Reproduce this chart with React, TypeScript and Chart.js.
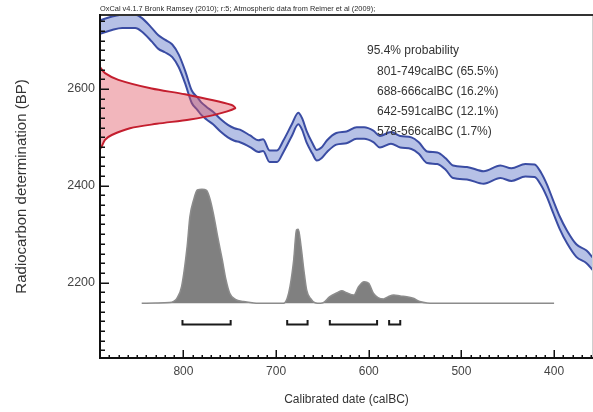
import React, { useEffect, useRef } from "react";
import { Chart, registerables } from "chart.js";

Chart.register(...registerables);

const FONT = "'Liberation Sans', Arial, sans-serif";

const headerText = "OxCal v4.1.7 Bronk Ramsey (2010); r:5; Atmospheric data from Reimer et al (2009);";
const xAxisTitle = "Calibrated date (calBC)";
const yAxisTitle = "Radiocarbon determination (BP)";
const xTickValues = [800, 700, 600, 500, 400];
const yTickValues = [2200, 2400, 2600];

// Calibration curve (cal BC, radiocarbon BP, 1 sigma)
const calYears = [890, 877, 866, 852, 845, 834, 827, 820, 812, 805, 798, 791, 785, 781, 775, 768, 760, 752, 745, 739, 728, 719, 714, 707, 699, 692, 683, 676, 672, 667, 661, 656, 651, 645, 635, 624, 613, 605, 595, 588, 576, 566, 554, 546, 537, 526, 517, 509, 494, 476, 458, 446, 431, 421, 414, 408, 401, 394, 386, 376, 365, 358];
const curveBP = [2728, 2736, 2740, 2740, 2733, 2712, 2697, 2689, 2679, 2658, 2624, 2584, 2570, 2560, 2550, 2540, 2525, 2513, 2506, 2503, 2492, 2482, 2484, 2461, 2461, 2482, 2515, 2539, 2528, 2501, 2478, 2463, 2468, 2482, 2497, 2500, 2509, 2509, 2502, 2491, 2499, 2491, 2488, 2478, 2459, 2457, 2445, 2429, 2426, 2417, 2429, 2423, 2432, 2431, 2414, 2391, 2357, 2324, 2294, 2266, 2253, 2238];
const curveErr = [14, 14, 14, 14, 14, 14, 14, 13, 13, 13, 13, 13, 13, 13, 13, 13, 13, 13, 13, 13, 12, 12, 12, 12, 12, 12, 12, 12, 12, 12, 11, 11, 11, 12, 12, 12, 12, 12, 12, 12, 12, 12, 12, 12, 12, 12, 12, 13, 13, 13, 13, 13, 13, 13, 13, 13, 13, 13, 13, 13, 13, 13];

// Radiocarbon likelihood (BP, relative probability)
const likelihoodBP = [2645, 2633, 2619, 2601, 2589, 2567, 2560, 2546, 2537, 2528, 2519, 2505, 2495, 2481, 2476];
const likelihoodProb = [0, 0.037, 0.136, 0.383, 0.63, 0.976, 1, 0.84, 0.667, 0.42, 0.222, 0.087, 0.037, 0.012, 0];

// Calibrated posterior (cal BC, relative probability)
const posteriorYears = [845, 830, 815, 810, 807, 802, 796, 793, 789, 785, 780, 775, 771, 767, 763, 758, 754, 750, 744, 735, 724, 710, 692, 688, 685, 681, 678, 676, 673, 670, 667, 663, 658, 652, 649, 642, 634, 629, 624, 616, 611, 605, 600, 595, 590, 584, 579, 573, 566, 559, 552, 545, 537, 520, 400];
const posteriorDensity = [0, 0.003, 0.006, 0.02, 0.044, 0.146, 0.497, 0.76, 0.906, 0.994, 1.0, 0.99, 0.906, 0.76, 0.584, 0.38, 0.204, 0.088, 0.035, 0.015, 0.003, 0, 0, 0.044, 0.146, 0.38, 0.643, 0.65, 0.497, 0.292, 0.117, 0.044, 0.005, 0, 0.005, 0.058, 0.093, 0.111, 0.093, 0.073, 0.146, 0.19, 0.175, 0.088, 0.05, 0.038, 0.058, 0.073, 0.064, 0.058, 0.044, 0.015, 0.003, 0, 0];

// 95.4% ranges
const probabilityTitle = "95.4% probability";
const hpdFrom = [801, 688, 642, 578];
const hpdTo = [749, 666, 591, 566];
const hpdPercent = ["65.5", "16.2", "12.1", "1.7"];

const BRACKET_TOP = -0.147;
const BRACKET_BOTTOM = -0.186;

const overlayPlugin = {
  id: "oxcalOverlay",
  afterDatasetsDraw(chart: any) {
    const { ctx, chartArea: a, scales } = chart;
    const xs = scales.x;
    const ys = scales.y;
    ctx.save();

    // probability text block
    ctx.fillStyle = "#333";
    ctx.font = `12px ${FONT}`;
    ctx.textAlign = "left";
    ctx.textBaseline = "middle";
    ctx.fillText(probabilityTitle, 367, 50.5);
    hpdFrom.forEach((f, i) => {
      ctx.fillText(`${f}-${hpdTo[i]}calBC (${hpdPercent[i]}%)`, 377, 71.5 + i * 20);
    });

    // header
    ctx.font = `7.4px ${FONT}`;
    ctx.textBaseline = "alphabetic";
    ctx.fillStyle = "#2a2a2a";
    ctx.fillText(headerText, 100, 10.5);

    // frame
    ctx.strokeStyle = "#cfcfcf";
    ctx.lineWidth = 1;
    ctx.beginPath();
    ctx.moveTo(a.right - 0.5, a.top);
    ctx.lineTo(a.right - 0.5, a.bottom);
    ctx.stroke();

    ctx.strokeStyle = "#333";
    ctx.lineWidth = 2;
    ctx.beginPath();
    ctx.moveTo(a.left, a.top);
    ctx.lineTo(a.right, a.top);
    ctx.stroke();

    ctx.strokeStyle = "#111";
    ctx.beginPath();
    ctx.moveTo(a.left, a.top - 1);
    ctx.lineTo(a.left, a.bottom);
    ctx.lineTo(a.right, a.bottom);
    ctx.stroke();

    // inward tick marks
    ctx.lineWidth = 1.5;
    ctx.beginPath();
    for (let v = Math.ceil(ys.min / 20) * 20; v <= ys.max; v += 20) {
      const y = Math.round(ys.getPixelForValue(v)) + 0.25;
      const len = yTickValues.includes(v) ? 9 : 5;
      ctx.moveTo(a.left, y);
      ctx.lineTo(a.left + len, y);
    }
    for (let v = Math.ceil(xs.min / 10) * 10; v <= xs.max; v += 10) {
      const x = Math.round(xs.getPixelForValue(v)) + 0.25;
      const len = v % 100 === 0 ? 8 : 3;
      ctx.moveTo(x, a.bottom);
      ctx.lineTo(x, a.bottom - len);
    }
    ctx.stroke();
    ctx.restore();
  },
};

export default function App() {
  const ref = useRef<HTMLCanvasElement>(null);

  useEffect(() => {
    document.body.style.margin = "0";
    const canvas = ref.current;
    if (!canvas) return;

    const upper = calYears.map((x, i) => ({ x, y: curveBP[i] + curveErr[i] }));
    const lower = calYears.map((x, i) => ({ x, y: curveBP[i] - curveErr[i] }));
    const likelihood = likelihoodBP.map((y, i) => ({ x: likelihoodProb[i], y }));
    const posterior = posteriorYears.map((x, i) => ({ x, y: posteriorDensity[i] }));

    const brackets = hpdFrom.map((f, i) => ({
      type: "line" as const,
      data: [
        { x: f, y: BRACKET_TOP },
        { x: f, y: BRACKET_BOTTOM },
        { x: hpdTo[i], y: BRACKET_BOTTOM },
        { x: hpdTo[i], y: BRACKET_TOP },
      ],
      xAxisID: "x",
      yAxisID: "y2",
      borderColor: "#1a1a1a",
      borderWidth: 2,
      pointRadius: 0,
      tension: 0,
      fill: false,
    }));

    const chart = new Chart(canvas, {
      type: "line",
      data: {
        datasets: [
          {
            data: likelihood,
            xAxisID: "x2",
            yAxisID: "y",
            borderColor: "#c41e2e",
            borderWidth: 2,
            backgroundColor: "rgba(225, 80, 95, 0.42)",
            fill: "shape",
            pointRadius: 0,
            tension: 0.3,
          },
          {
            data: upper,
            xAxisID: "x",
            yAxisID: "y",
            borderColor: "#3a4ca3",
            borderWidth: 2,
            pointRadius: 0,
            cubicInterpolationMode: "monotone",
            fill: false,
          },
          {
            data: lower,
            xAxisID: "x",
            yAxisID: "y",
            borderColor: "#3a4ca3",
            borderWidth: 2,
            backgroundColor: "#b6c1e6",
            pointRadius: 0,
            cubicInterpolationMode: "monotone",
            fill: "-1",
          },
          ...brackets,
          {
            data: posterior,
            xAxisID: "x",
            yAxisID: "y2",
            borderColor: "#8c8c8c",
            borderWidth: 1.5,
            backgroundColor: "#808080",
            pointRadius: 0,
            cubicInterpolationMode: "monotone",
            fill: "origin",
          },
        ] as any,
      },
      options: {
        responsive: false,
        animation: false,
        events: [],
        layout: { padding: { top: 15, left: 0, right: 0, bottom: 0 } },
        plugins: {
          legend: { display: false },
          tooltip: { enabled: false },
          title: { display: false },
        },
        scales: {
          x: {
            type: "linear",
            position: "bottom",
            reverse: true,
            min: 358,
            max: 890,
            afterFit: (s: any) => {
              s.height = 54;
            },
            afterBuildTicks: (s: any) => {
              s.ticks = xTickValues.map((value) => ({ value }));
            },
            grid: { display: false, drawTicks: false },
            border: { display: false },
            ticks: {
              padding: 6,
              color: "#444",
              font: { family: FONT, size: 12 },
              maxRotation: 0,
              autoSkip: false,
              callback: (v: any) => String(v),
            },
            title: {
              display: true,
              text: xAxisTitle,
              color: "#333",
              font: { family: FONT, size: 12 },
              padding: { top: 0, bottom: 5 },
            },
          },
          y: {
            type: "linear",
            position: "left",
            min: 2044,
            max: 2753,
            afterFit: (s: any) => {
              s.width = 100;
            },
            afterBuildTicks: (s: any) => {
              s.ticks = yTickValues.map((value) => ({ value }));
            },
            grid: { display: false, drawTicks: false },
            border: { display: false },
            ticks: {
              padding: 5,
              color: "#444",
              font: { family: FONT, size: 12.5 },
              autoSkip: false,
              callback: (v: any) => String(v),
            },
            title: {
              display: true,
              text: yAxisTitle,
              color: "#333",
              font: { family: FONT, size: 15 },
              padding: { top: 13, bottom: 0 },
            },
          },
          x2: { type: "linear", display: false, min: 0, max: 3.652 },
          y2: { type: "linear", display: false, min: -0.48, max: 2.529 },
        },
      } as any,
      plugins: [overlayPlugin],
    });

    return () => chart.destroy();
  }, []);

  return (
    <div style={{ width: 593, height: 412, position: "relative" }}>
      <canvas ref={ref} width={593} height={412} style={{ display: "block", width: 593, height: 412 }} />
    </div>
  );
}
